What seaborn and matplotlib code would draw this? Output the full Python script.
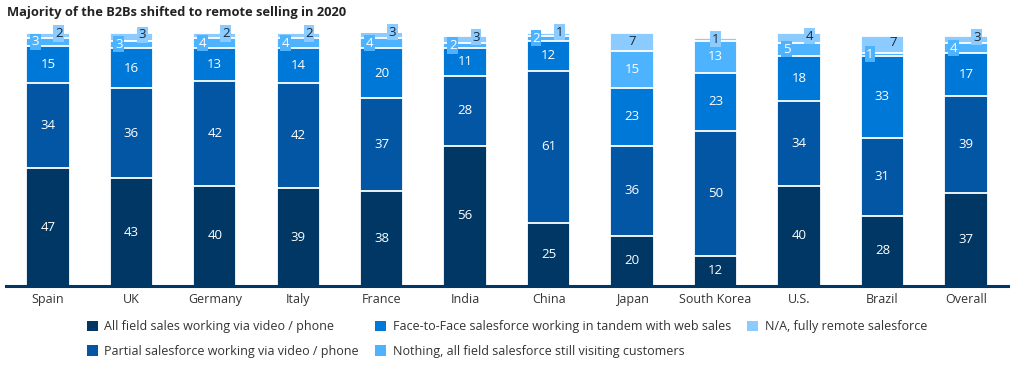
import numpy as np
import pandas as pd
import matplotlib
matplotlib.use('Agg')
import matplotlib.pyplot as plt
import seaborn as sns
from matplotlib.patches import Patch

# data (stack order: bottom -> top)
countries = ['Spain', 'UK', 'Germany', 'Italy', 'France', 'India', 'China',
             'Japan', 'South Korea', 'U.S.', 'Brazil', 'Overall']
all_field = [47, 43, 40, 39, 38, 56, 25, 20, 12, 40, 28, 37]
partial = [34, 36, 42, 42, 37, 28, 61, 36, 50, 34, 31, 39]
face_to_face = [15, 16, 13, 14, 20, 11, 12, 23, 23, 18, 33, 17]
nothing = [3, 3, 4, 4, 4, 2, 2, 15, 13, 5, 1, 4]
fully_remote = [2, 3, 2, 2, 3, 3, 1, 7, 1, 4, 7, 3]

series_names = ['All field sales working via video / phone',
                'Partial salesforce working via video / phone',
                'Face-to-Face salesforce working in tandem with web sales',
                'Nothing, all field salesforce still visiting customers',
                'N/A, fully remote salesforce']
colors = ['#003764', '#0356a3', '#0078d7', '#4eb3ff', '#8ccbff']
text_colors = ['white', 'white', 'white', 'white', '#1b2a3a']

series = [all_field, partial, face_to_face, nothing, fully_remote]
df = pd.DataFrame({name: vals for name, vals in zip(series_names, series)}, index=countries)
cum = df.cumsum(axis=1)

sns.set_style('white')
plt.rcParams['font.family'] = ['Open Sans', 'DejaVu Sans']

fig = plt.figure(figsize=(10.24, 3.67), dpi=100)
ax = fig.add_axes([0.006, 0.221, 0.978, 0.689])

# draw cumulative totals from the top layer down so each layer overlaps the next
for i in range(len(series_names) - 1, -1, -1):
    sns.barplot(x=countries, y=cum.iloc[:, i].values, color=colors[i], ax=ax,
                width=0.52, edgecolor='white', linewidth=1.3, saturation=1)

# segment labels
for j, c in enumerate(countries):
    for i, name in enumerate(series_names):
        v = df.loc[c, name]
        top = cum.loc[c, name]
        yc = top - v / 2
        x = j
        boxed = v < 6
        if i == 3 and boxed:
            x = j - 0.15
        if i == 4 and df.loc[c, series_names[3]] < 6:
            x = j + 0.13
            yc = yc + 0.8
        if boxed:
            ax.text(x, yc, str(v), ha='center', va='center', fontsize=9.5,
                    color=text_colors[i], clip_on=False,
                    bbox=dict(boxstyle='square,pad=0.12', fc=colors[i], ec='none'))
        else:
            ax.text(x, yc, str(v), ha='center', va='center', fontsize=9.5,
                    color=text_colors[i])

ax.set_xlim(-0.5, 11.5)
ax.set_ylim(0, 101)
ax.set_yticks([])
ax.tick_params(axis='x', length=0, labelsize=9, colors='#333333', pad=5)
sns.despine(ax=ax, left=True)
ax.spines['bottom'].set_color('#003764')
ax.spines['bottom'].set_linewidth(2.2)

fig.text(0.007, 0.965, 'Majority of the B2Bs shifted to remote selling in 2020',
         fontsize=9.3, fontweight='bold', color='#222222', va='center')

handles = [Patch(facecolor=col, edgecolor='none') for col in colors]
fig.legend(handles, series_names, loc='upper center', bbox_to_anchor=(0.495, 0.145),
           ncol=3, frameon=False, fontsize=9, handlelength=0.9, handleheight=0.9,
           handletextpad=0.5, columnspacing=1.3, labelspacing=0.95,
           labelcolor='#333333', borderpad=0)

fig.savefig('out.png', dpi=100)
